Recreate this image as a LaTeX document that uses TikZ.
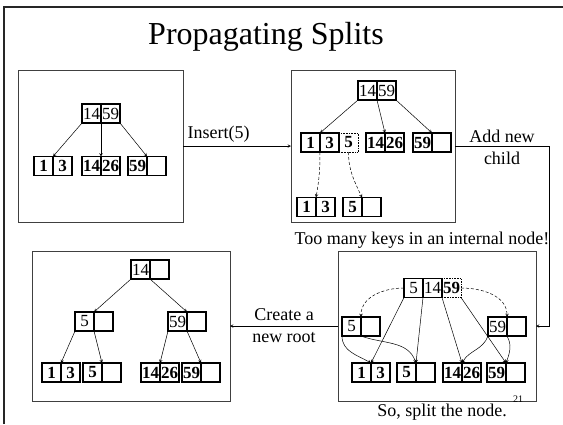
\documentclass[tikz,border=0pt]{standalone}
\usepackage{fontspec}
\setmainfont{Liberation Serif}
\usetikzlibrary{arrows,positioning}

\tikzset{
  cell/.style={draw, line width=1.3pt, minimum width=19pt, minimum height=19pt,
    inner sep=0pt, outer sep=0pt, font=\fontsize{17}{17}\selectfont},
  key/.style={cell, font=\fontsize{17}{17}\selectfont\bfseries},
  newkey/.style={key, line width=0.6pt, densely dotted},
  panel/.style={draw=black!75, line width=0.9pt, inner sep=0pt, outer sep=0pt},
  ptr/.style={->, >=stealth, line width=0.5pt},
  note/.style={font=\fontsize{18}{22}\selectfont, align=center},
}

\begin{document}
\begin{tikzpicture}[x=1pt,y=-1pt]
        \useasboundingbox (0,0) rectangle (563,424);
        \draw[line width=2pt, black!85] (4,424) -- (4,7) -- (563,7);
        \node[font=\fontsize{32}{32}\selectfont] (title) at (266,37) {Propagating Splits};

        % the four snapshots
        \node[panel, minimum width=165pt, minimum height=152pt] (box1) at (100.5,146) {};
        \node[panel, minimum width=164pt, minimum height=152pt] (box2) at (373,146) {};
        \node[panel, minimum width=198pt, minimum height=150pt] (box3) at (437,326) {};
        \node[panel, minimum width=198pt, minimum height=150pt] (box4) at (131,326) {};

        % before the insert
        \node[cell] (r1a) at (91.5,113.5) {14};
        \node[cell, right=0pt of r1a] (r1b) {59};
        \node[key] (l1a) at (43.5,166) {1};
        \node[key, right=0pt of l1a] (l1b) {3};
        \node[key] (l2a) at (91.5,166) {14};
        \node[key, right=0pt of l2a] (l2b) {26};
        \node[key] (l3a) at (137.5,166) {59};
        \node[key, right=0pt of l3a] (l3b) {};
        \draw[ptr] (r1a.south west) -- (l1a.north east);
        \draw[ptr] (r1a.south east) -- (l2a.north east);
        \draw[ptr] (r1b.south east) -- (l3a.north east);

        % leaf overflows
        \node[cell] (r2a) at (367.5,90.5) {14};
        \node[cell, right=0pt of r2a] (r2b) {59};
        \node[key] (m1a) at (310.5,142.5) {1};
        \node[key, right=0pt of m1a] (m1b) {3};
        \node[newkey, right=0pt of m1b] (m1c) {5};
        \node[key] (m2a) at (375.5,142.5) {14};
        \node[key, right=0pt of m2a] (m2b) {26};
        \node[key] (m3a) at (422.5,142.5) {59};
        \node[key, right=0pt of m3a] (m3b) {};
        \node[key] (n1a) at (306.5,207) {1};
        \node[key, right=0pt of n1a] (n1b) {3};
        \node[key] (n2a) at (352.5,207) {5};
        \node[key, right=0pt of n2a] (n2b) {};
        \draw[ptr] (r2a.south west) -- (m1a.north east);
        \draw[ptr] (r2a.south east) -- (m2a.north east);
        \draw[ptr] (r2b.south east) -- (m3a.north east);
        \draw[ptr, densely dashed] (m1a.south east) to[out=-90,in=80] (n1a.north east);
        \draw[ptr, densely dashed] (m1c.south) to[out=-90,in=115] (n2a.north east);

        % internal node overflows
        \node[cell] (s1) at (413.5,288) {5};
        \node[cell, right=0pt of s1] (s2) {14};
        \node[newkey, right=0pt of s2] (s3) {59};
        \node[cell] (c1a) at (351.5,326.5) {5};
        \node[cell, right=0pt of c1a] (c1b) {};
        \node[cell] (c2a) at (497.5,326.5) {59};
        \node[cell, right=0pt of c2a] (c2b) {};
        \node[key] (t1a) at (361.5,372.5) {1};
        \node[key, right=0pt of t1a] (t1b) {3};
        \node[key] (t2a) at (406.5,372.5) {5};
        \node[key, right=0pt of t2a] (t2b) {};
        \node[key] (t3a) at (452.5,372.5) {14};
        \node[key, right=0pt of t3a] (t3b) {26};
        \node[key] (t4a) at (496.5,372.5) {59};
        \node[key, right=0pt of t4a] (t4b) {};
        \draw[ptr] (s1.south west) -- (t1a.north east);
        \draw[ptr] (s1.south east) -- (t2a.north east);
        \draw[ptr] (s2.south east) -- (t3a.north east);
        \draw[ptr] (s3.south east) -- (t4a.north east);
        \draw[ptr, densely dashed] (s1.west) to[out=180,in=90] (c1a.north east);
        \draw[ptr, densely dashed] (s3.east) to[out=0,in=90] (c2a.north east);
        \draw[ptr] (c1a.south west) to[out=-90,in=150] (t1a.north east);
        \draw[ptr] (c1a.south east) to[out=-20,in=110] (t2a.north east);
        \draw[ptr] (c2a.south west) to[out=-110,in=60] (t3a.north east);
        \draw[ptr] (c2a.south east) to[out=-60,in=70] (t4a.north east);

        % new root
        \node[cell] (u1) at (140.5,269.5) {14};
        \node[cell, right=0pt of u1] (u2) {};
        \node[cell] (v1a) at (84.5,321.5) {5};
        \node[cell, right=0pt of v1a] (v1b) {};
        \node[cell] (v2a) at (177.5,321.5) {59};
        \node[cell, right=0pt of v2a] (v2b) {};
        \node[key] (w1a) at (51.5,372.5) {1};
        \node[key, right=0pt of w1a] (w1b) {3};
        \node[key] (w2a) at (92.5,372.5) {5};
        \node[key, right=0pt of w2a] (w2b) {};
        \node[key] (w3a) at (150.5,372.5) {14};
        \node[key, right=0pt of w3a] (w3b) {26};
        \node[key] (w4a) at (191.5,372.5) {59};
        \node[key, right=0pt of w4a] (w4b) {};
        \draw[ptr] (u1.south west) -- (v1a.north east);
        \draw[ptr] (u1.south east) -- (v2a.north east);
        \draw[ptr] (v1a.south west) -- (w1a.north east);
        \draw[ptr] (v1a.south east) -- (w2a.north east);
        \draw[ptr] (v2a.south west) -- (w3a.north east);
        \draw[ptr] (v2a.south east) -- (w4a.north east);

        % steps
        \draw[ptr] (box1.east) -- node[note, above, pos=0.33] (ins) {Insert(5)} (box2.west);
        \draw[ptr] (box2.east) -- ++(94,0) node[note, midway, yshift=-1pt] (add) {Add new\\child} |- (box3.east);
        \draw[ptr] (box3.west) -- node[note, midway] (root) {Create a\\new root} (box4.east);
        \node[note] (many) at (422,240) {Too many keys in an internal node!};
        \node[note] (split) at (442,412) {So, split the node.};
        \node[font=\fontsize{10}{10}\selectfont] (page) at (518,399) {21};
    \end{tikzpicture}
\end{document}
